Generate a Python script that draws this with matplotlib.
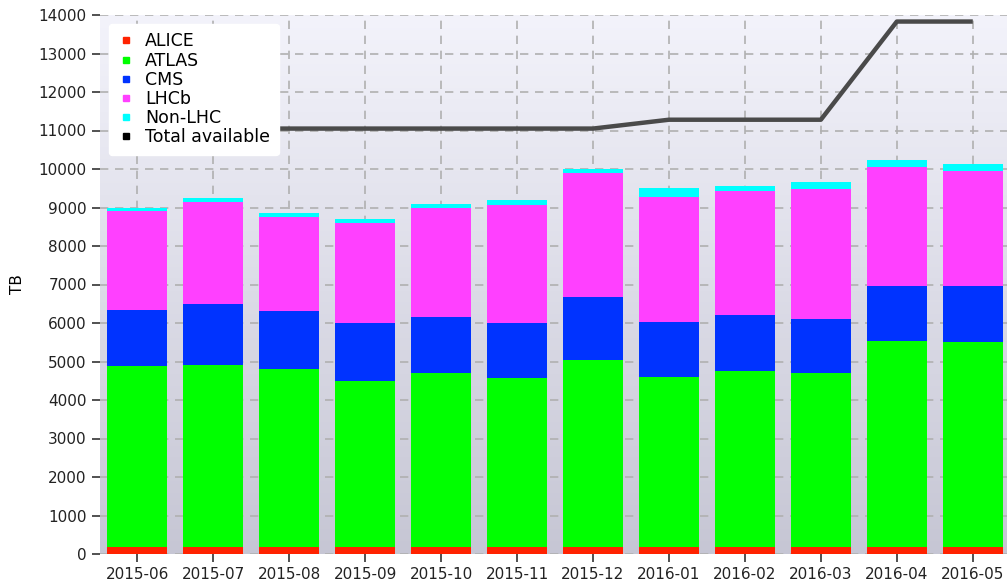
import numpy as np
import matplotlib
matplotlib.use("Agg")
import matplotlib.pyplot as plt
from matplotlib.lines import Line2D

months = ['2015-06', '2015-07', '2015-08', '2015-09', '2015-10', '2015-11',
          '2015-12', '2016-01', '2016-02', '2016-03', '2016-04', '2016-05']
alice = [170, 170, 170, 170, 170, 170, 170, 170, 170, 170, 170, 170]
atlas = [4710, 4740, 4630, 4320, 4530, 4400, 4870, 4430, 4580, 4530, 5360, 5340]
cms = [1460, 1580, 1500, 1510, 1460, 1440, 1640, 1430, 1460, 1400, 1430, 1450]
lhcb = [2570, 2660, 2450, 2600, 2820, 3050, 3210, 3250, 3230, 3380, 3100, 2990]
non_lhc = [90, 90, 110, 100, 110, 130, 110, 220, 120, 180, 170, 170]
total_available = [11050, 11050, 11050, 11050, 11050, 11050, 11050,
                   11280, 11280, 11280, 13830, 13830]

series = [('ALICE', alice, '#ff2200'),
          ('ATLAS', atlas, '#00ff00'),
          ('CMS', cms, '#0033ff'),
          ('LHCb', lhcb, '#ff40ff'),
          ('Non-LHC', non_lhc, '#00ffff')]

fig = plt.figure(figsize=(10.07, 5.86), dpi=100)
ax = fig.add_axes([100 / 1007, 32 / 586, 910 / 1007, 539 / 586])

# gradient background
grad = np.linspace(0, 1, 256).reshape(-1, 1)
top = np.array([243, 243, 251]) / 255
bot = np.array([198, 198, 212]) / 255
img = top + (bot - top) * grad[:, :, None]
ax.imshow(img, extent=[0, 1, 0, 1], transform=ax.transAxes, aspect='auto', zorder=0)

x = np.arange(len(months))
bottom = np.zeros(len(months))
for name, vals, col in series:
    ax.bar(x, vals, width=0.79, bottom=bottom, color=col, zorder=2)
    bottom += np.array(vals)

ax.plot(x, total_available, color='#4a4a4a', lw=3.2, solid_capstyle='butt', zorder=3)

ax.set_xlim(-0.49, 11.49)
ax.set_ylim(0, 14000)
ax.set_yticks(range(0, 14001, 1000))
ax.set_xticks(x)
ax.set_xticklabels(months)
ax.grid(True, color='#b0b0b0', linestyle=(0, (5, 4)), lw=1.2, zorder=1)
ax.set_axisbelow(True)
for s in ax.spines.values():
    s.set_visible(False)
ax.tick_params(length=6, width=1.2, color='#333333', labelsize=11, labelcolor='#222222')
ax.set_ylabel('TB', fontsize=11, labelpad=10)

handles = [Line2D([], [], marker='s', ls='', color=c, markersize=5) for _, _, c in series]
handles.append(Line2D([], [], marker='s', ls='', color='black', markersize=5))
labels = [n for n, _, _ in series] + ['Total available']
leg = ax.legend(handles, labels, loc='upper left', fontsize=12.5, frameon=True,
                fancybox=True, framealpha=1, edgecolor='white', handletextpad=0.6,
                labelspacing=0.07, borderaxespad=0.5, borderpad=0.5, handlelength=1.0)
leg.set_zorder(5)

fig.savefig('out.png', dpi=100)
